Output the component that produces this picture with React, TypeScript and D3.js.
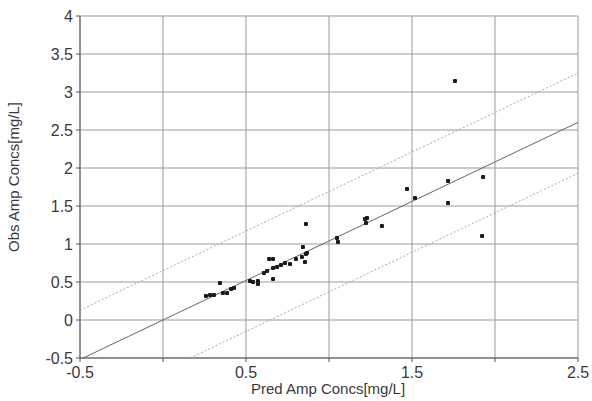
import React from 'react';
import * as d3 from 'd3';

// predicted vs observed amp concentrations (mg/L)
const predVals = [
  0.259, 0.283, 0.307, 0.343, 0.361, 0.386, 0.41, 0.428, 0.524, 0.542,
  0.572, 0.572, 0.608, 0.627, 0.639, 0.663, 0.663, 0.663, 0.687, 0.711,
  0.735, 0.765, 0.801, 0.837, 0.855, 0.867, 0.861, 0.843, 0.861, 1.048,
  1.054, 1.217, 1.229, 1.223, 1.319, 1.759, 1.47, 1.518, 1.717, 1.717,
  1.928, 1.922,
];
const obsVals = [
  0.316, 0.329, 0.329, 0.487, 0.355, 0.355, 0.408, 0.421, 0.513, 0.5,
  0.513, 0.474, 0.618, 0.645, 0.803, 0.803, 0.539, 0.684, 0.697, 0.724,
  0.75, 0.737, 0.803, 0.829, 0.763, 0.882, 1.263, 0.961, 0.868, 1.079,
  1.026, 1.329, 1.342, 1.276, 1.237, 3.145, 1.724, 1.605, 1.829, 1.539,
  1.882, 1.105,
];

// fitted line and prediction band (slope, intercept)
const fitLines = [
  { slope: 1.04, intercept: 0, dashed: false },
  { slope: 1.04, intercept: 0.65, dashed: true },
  { slope: 1.04, intercept: -0.67, dashed: true },
];

const xGrid = [-0.5, 0, 0.5, 1, 1.5, 2, 2.5];
const xLabels = [-0.5, 0.5, 1.5, 2.5];
const yTicks = [-0.5, 0, 0.5, 1, 1.5, 2, 2.5, 3, 3.5, 4];

const W = 592;
const H = 401;
const left = 80, right = 578, top = 16, bottom = 358;

const App = () => {
  const x = d3.scaleLinear().domain([-0.5, 2.5]).range([left, right]);
  const y = d3.scaleLinear().domain([-0.5, 4]).range([bottom, top]);

  const font = "'Liberation Sans', Arial, sans-serif";
  const txt = '#3a3a3a';

  // clip each fit line to the plot box
  const segment = (m: number, b: number) => {
    let x0 = -0.5, x1 = 2.5;
    if (m * x0 + b < -0.5) x0 = (-0.5 - b) / m;
    if (m * x1 + b > 4) x1 = (4 - b) / m;
    return d3.line<number>().x(v => x(v)).y(v => y(m * v + b))([x0, x1]) || '';
  };

  return (
    <svg width={W} height={H} style={{ position: 'absolute', left: 0, top: 0, background: '#fff' }}>
      {/* grid */}
      {yTicks.map(t => (
        <line key={'gy' + t} x1={left} x2={right} y1={y(t)} y2={y(t)} stroke="#9a9a9a" strokeWidth={1} />
      ))}
      {xGrid.map(t => (
        <line key={'gx' + t} x1={x(t)} x2={x(t)} y1={top} y2={bottom} stroke="#9a9a9a" strokeWidth={1} />
      ))}

      {/* axes */}
      <line x1={left} x2={left} y1={top} y2={bottom} stroke="#555" />
      <line x1={left} x2={right} y1={bottom} y2={bottom} stroke="#555" />
      {yTicks.map(t => (
        <line key={'ty' + t} x1={left - 4} x2={left} y1={y(t)} y2={y(t)} stroke="#555" />
      ))}
      {xGrid.map(t => (
        <line key={'tx' + t} x1={x(t)} x2={x(t)} y1={bottom} y2={bottom + 4} stroke="#555" />
      ))}

      {/* fit lines */}
      {fitLines.map((l, i) => (
        <path
          key={'fl' + i}
          d={segment(l.slope, l.intercept)}
          fill="none"
          stroke={l.dashed ? '#a8a8a8' : '#666'}
          strokeWidth={1}
          strokeDasharray={l.dashed ? '2,2' : undefined}
        />
      ))}

      {/* points */}
      {predVals.map((p, i) => (
        <rect key={'pt' + i} x={x(p) - 2} y={y(obsVals[i]) - 2} width={4} height={4} rx={1} fill="#1a1a1a" />
      ))}

      {/* tick labels */}
      {yTicks.map(t => (
        <text key={'ly' + t} x={left - 7} y={y(t)} dy="0.35em" textAnchor="end" fontSize={16} fontFamily={font} fill={txt}>
          {t}
        </text>
      ))}
      {xLabels.map(t => (
        <text key={'lx' + t} x={x(t)} y={bottom + 14} dy="0.35em" textAnchor="middle" fontSize={16} fontFamily={font} fill={txt}>
          {t}
        </text>
      ))}

      {/* axis titles */}
      <text x={328} y={389} dy="0.35em" textAnchor="middle" fontSize={15} fontFamily={font} fill={txt}>
        Pred Amp Concs[mg/L]
      </text>
      <text transform="translate(14,177) rotate(-90)" dy="0.35em" textAnchor="middle" fontSize={15} fontFamily={font} fill={txt}>
        Obs Amp Concs[mg/L]
      </text>
    </svg>
  );
};

export default App;
